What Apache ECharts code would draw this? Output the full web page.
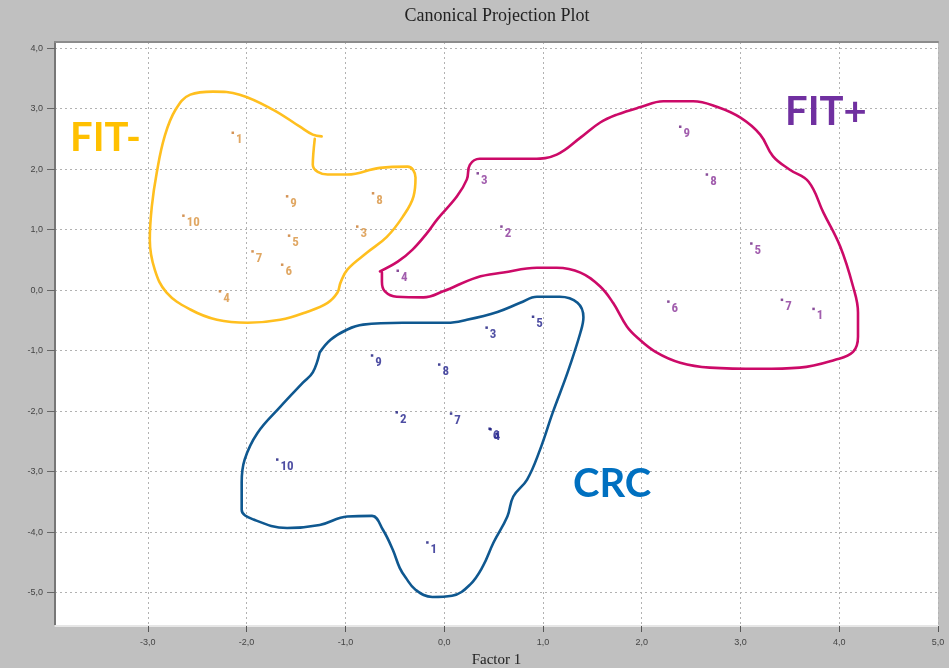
<!DOCTYPE html>
<html>
<head>
<meta charset="utf-8">
<title>Canonical Projection Plot</title>
<script src="https://cdn.jsdelivr.net/npm/echarts@6/dist/echarts.min.js"></script>
<style>
  html, body { margin: 0; padding: 0; background: #c0c0c0; }
  #chart { width: 949px; height: 668px; }
</style>
</head>
<body>
<div id="chart"></div>
<script>
// Canonical scores (Factor 1, Factor 2) per subject, grouped by class
const fitMinusIds = ['1', '10', '9', '8', '3', '5', '7', '6', '4'];
const fitMinusPts = [[-2.14, 2.60], [-2.64, 1.23], [-1.59, 1.55], [-0.72, 1.60], [-0.88, 1.05],
                     [-1.57, 0.90], [-1.94, 0.64], [-1.64, 0.42], [-2.27, -0.02]];

const fitPlusIds = ['4', '3', '2', '9', '8', '5', '6', '7', '1'];
const fitPlusPts = [[-0.47, 0.32], [0.34, 1.93], [0.58, 1.05], [2.39, 2.70], [2.66, 1.91],
                    [3.11, 0.77], [2.27, -0.19], [3.42, -0.16], [3.74, -0.31]];

const crcIds = ['5', '3', '9', '8', '2', '7', '6', '4', '10', '1'];
const crcPts = [[0.90, -0.44], [0.43, -0.62], [-0.73, -1.08], [-0.05, -1.23], [-0.48, -2.02],
                [0.07, -2.04], [0.46, -2.29], [0.47, -2.30], [-1.69, -2.80], [-0.17, -4.17]];

// Hand-drawn group outlines, in axis units
const fitMinusOutline = [[-1.31, 2.50], [-1.33, 2.07], [-1.18, 1.91], [-0.98, 1.91], [-0.65, 2.02],
  [-0.37, 2.04], [-0.29, 1.86], [-0.31, 1.55], [-0.42, 1.21], [-0.58, 0.88], [-0.78, 0.62],
  [-0.98, 0.34], [-1.05, 0.12], [-1.08, -0.04], [-1.18, -0.21], [-1.39, -0.36], [-1.66, -0.49],
  [-1.99, -0.54], [-2.30, -0.49], [-2.57, -0.32], [-2.81, -0.04], [-2.93, 0.34], [-2.98, 0.83],
  [-2.96, 1.38], [-2.91, 1.94], [-2.83, 2.54], [-2.72, 2.98], [-2.57, 3.23], [-2.34, 3.28],
  [-2.07, 3.23], [-1.73, 2.98], [-1.46, 2.70], [-1.33, 2.57], [-1.24, 2.54]];

const fitPlusOutline = [[-0.65, 0.31], [-0.47, 0.47], [-0.32, 0.67], [-0.17, 0.95], [-0.07, 1.17],
  [0.13, 1.55], [0.23, 1.83], [0.26, 2.07], [0.36, 2.17], [0.64, 2.17], [0.90, 2.17], [1.14, 2.24],
  [1.38, 2.52], [1.58, 2.77], [1.75, 2.90], [1.98, 3.02], [2.22, 3.12], [2.52, 3.12], [2.76, 3.03],
  [3.00, 2.85], [3.20, 2.57], [3.33, 2.21], [3.50, 1.99], [3.69, 1.79], [3.84, 1.28], [4.01, 0.72],
  [4.14, 0.06], [4.19, -0.37], [4.19, -0.77], [4.14, -1.02], [3.96, -1.15], [3.60, -1.28],
  [3.20, -1.30], [2.69, -1.28], [2.39, -1.20], [2.14, -1.02], [1.96, -0.79], [1.85, -0.60],
  [1.71, -0.21], [1.58, 0.06], [1.38, 0.29], [1.14, 0.37], [0.94, 0.37], [0.60, 0.29], [0.33, 0.21],
  [-0.01, -0.02], [-0.21, -0.12], [-0.48, -0.11], [-0.60, -0.02], [-0.63, 0.14], [-0.63, 0.29]];

const crcOutline = [[-1.26, -1.03], [-1.15, -0.82], [-0.98, -0.65], [-0.82, -0.57], [-0.42, -0.54],
  [0.03, -0.54], [0.23, -0.49], [0.54, -0.36], [0.77, -0.21], [0.94, -0.11], [1.17, -0.11],
  [1.35, -0.21], [1.41, -0.45], [1.38, -0.70], [1.25, -1.36], [1.10, -2.02], [0.97, -2.64],
  [0.84, -3.13], [0.70, -3.41], [0.64, -3.74], [0.50, -4.17], [0.39, -4.57], [0.26, -4.87],
  [0.08, -5.05], [-0.12, -5.07], [-0.29, -4.95], [-0.39, -4.75], [-0.45, -4.59], [-0.52, -4.29],
  [-0.62, -3.96], [-0.73, -3.73], [-0.98, -3.74], [-1.26, -3.88], [-1.59, -3.93], [-1.93, -3.79],
  [-2.05, -3.63], [-2.05, -3.18], [-2.02, -2.80], [-1.89, -2.36], [-1.66, -1.93], [-1.43, -1.53],
  [-1.33, -1.36], [-1.26, -1.03]];

const groupNames = ['FIT-', 'FIT+', 'CRC'];

// Axis extents and tick positions
const xRange = [-3.94, 5];
const yRange = [-5.55, 4.1];
const xTicks = [-3, -2, -1, 0, 1, 2, 3, 4, 5];
const yTicks = [-5, -4, -3, -2, -1, 0, 1, 2, 3, 4];

const labelFont = "'Liberation Sans Narrow', 'Roboto Condensed', 'Liberation Sans', sans-serif";
const commaFmt = v => (Math.abs(v - Math.round(v)) < 1e-6) ? v.toFixed(1).replace('.', ',') : '';

function pointSeries(name, pts, ids, dotColor, textColor) {
  return {
    name: name,
    type: 'scatter',
    z: 5,
    symbol: 'rect',
    symbolSize: 2.5,
    itemStyle: { color: dotColor },
    data: pts.map((p, i) => ({ value: p, name: ids[i] })),
    label: {
      show: true,
      position: 'right',
      distance: 2,
      offset: [0, 7],
      formatter: '{b}',
      color: textColor,
      fontSize: 13,
      fontWeight: 'bold',
      fontFamily: labelFont
    }
  };
}

function outlineSeries(pts, color) {
  return {
    type: 'line',
    z: 3,
    silent: true,
    smooth: 0.4,
    showSymbol: false,
    symbol: 'none',
    lineStyle: { color: color, width: 2.6, cap: 'round', join: 'round' },
    data: pts
  };
}

const gridLine = { show: true, lineStyle: { color: '#b2b2b2', width: 1, type: [2, 3] } };

const chart = echarts.init(document.getElementById('chart'), null, { renderer: 'canvas' });

chart.setOption({
  backgroundColor: '#c0c0c0',
  animation: false,
  grid: {
    left: 55, right: 11, top: 42, bottom: 42,
    outerBoundsMode: 'none',
    containLabel: false,
    show: true, backgroundColor: '#ffffff', borderWidth: 0
  },
  xAxis: [{
    type: 'value',
    min: xRange[0], max: xRange[1],
    minInterval: 1, maxInterval: 1,
    name: 'Factor 1',
    nameLocation: 'middle',
    nameGap: 27,
    nameTextStyle: { fontFamily: "'Liberation Serif', serif", fontSize: 15, color: '#222' },
    axisLine: { show: true, onZero: false, lineStyle: { color: '#e6e6e6', width: 2 } },
    axisTick: { show: true, length: 6, customValues: xTicks, lineStyle: { color: '#555' } },
    axisLabel: { formatter: commaFmt, customValues: xTicks, fontSize: 9, color: '#444', margin: 12, fontFamily: "'Liberation Sans', sans-serif" },
    splitLine: gridLine
  }, {
    type: 'value',
    position: 'top',
    min: xRange[0], max: xRange[1],
    axisLine: { show: true, onZero: false, lineStyle: { color: '#8c8c8c', width: 2 } },
    axisTick: { show: false },
    axisLabel: { show: false },
    splitLine: { show: false }
  }],
  yAxis: {
    type: 'value',
    min: yRange[0], max: yRange[1],
    minInterval: 1, maxInterval: 1,
    axisLine: { show: true, onZero: false, lineStyle: { color: '#777777', width: 2 } },
    axisTick: { show: true, length: 8, customValues: yTicks, lineStyle: { color: '#666' } },
    axisLabel: { formatter: commaFmt, customValues: yTicks, fontSize: 9, color: '#444', margin: 12, fontFamily: "'Liberation Sans', sans-serif" },
    splitLine: gridLine
  },
  graphic: [
    {
      type: 'text', x: 497, y: 16, z: 10,
      style: { text: 'Canonical Projection Plot', font: "18px 'Liberation Serif', serif", fill: '#222', align: 'center', verticalAlign: 'middle' }
    },
    {
      type: 'text', x: 70, y: 138, z: 10,
      style: { text: groupNames[0], font: "bold 40px Lato, 'Open Sans', sans-serif", fill: '#ffc000', verticalAlign: 'middle' }
    },
    {
      type: 'text', x: 785, y: 112, z: 10,
      style: { text: groupNames[1], font: "bold 40px Lato, 'Open Sans', sans-serif", fill: '#7030a0', verticalAlign: 'middle' }
    },
    {
      type: 'text', x: 573, y: 484, z: 10,
      style: { text: groupNames[2], font: "bold 40px Lato, 'Open Sans', sans-serif", fill: '#0070c0', verticalAlign: 'middle' }
    }
  ],
  series: [
    outlineSeries(fitMinusOutline, '#ffbf1f'),
    outlineSeries(fitPlusOutline, '#cc0a68'),
    outlineSeries(crcOutline, '#0f5890'),
    pointSeries(groupNames[0], fitMinusPts, fitMinusIds, '#c9782a', '#d8913c'),
    pointSeries(groupNames[1], fitPlusPts, fitPlusIds, '#6a2080', '#8a3599'),
    pointSeries(groupNames[2], crcPts, crcIds, '#15157a', '#22228c')
  ]
});
</script>
</body>
</html>
